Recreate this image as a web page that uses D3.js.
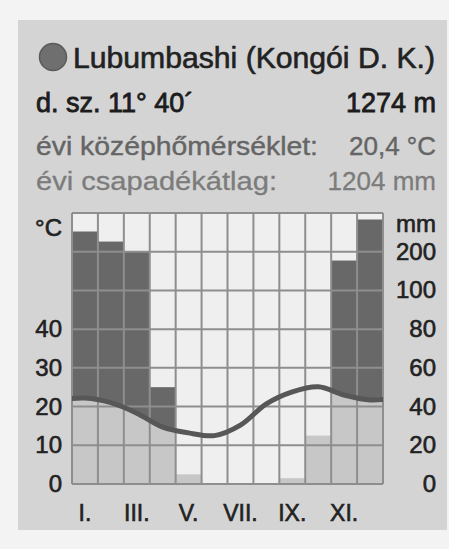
<!DOCTYPE html>
<html><head><meta charset="utf-8">
<script src="https://cdn.jsdelivr.net/npm/d3@7"></script>
<style>html,body{margin:0;padding:0;background:#f3f3f3;}svg{display:block;}</style>
</head><body>
<script>
// ---- data ----
const months = ["I.","II.","III.","IV.","V.","VI.","VII.","VIII.","IX.","X.","XI.","XII."];
const monthLabels = ["I.","III.","V.","VII.","IX.","XI."];
const precipitation = [252, 226, 200, 50, 5, 0, 0, 0, 3, 25, 177, 283];   // mm
const temperature = [22.2, 21.0, 18.3, 14.7, 13.2, 12.5, 15.2, 20.7, 23.8, 25.1, 23.0, 21.7]; // °C
const tempTicks = [0, 10, 20, 30, 40];
const precipTicks = [0, 20, 40, 60, 80, 100, 200];
const gridPrecip = [0, 20, 40, 60, 80, 100, 200, 300];
const title = "Lubumbashi (Kongói D. K.)";
const latitude = "d. sz. 11° 40´";
const altitude = "1274 m";
const tempLabel = "évi középhőmérséklet:";
const tempValue = "20,4 °C";
const precLabel = "évi csapadékátlag:";
const precValue = "1204 mm";

const W = 449, H = 549;
const L = 72, R = 383, T = 213, B = 484;

const svg = d3.select("body").append("svg").attr("width", W).attr("height", H);
svg.append("rect").attr("x",0).attr("y",0).attr("width",W).attr("height",H).attr("fill","#f3f3f3");
svg.append("rect").attr("x",18).attr("y",20).attr("width",429).attr("height",510).attr("fill","#d4d4d4");

const x = d3.scaleBand().domain(months).range([L, R]).padding(0);
const xi = d3.scaleLinear().domain([0, 12]).range([L, R]);
const yP = d3.scaleLinear().domain([0, 100, 300]).range([B, B - 5*(B-T)/7, T]);
const yT = d3.scaleLinear().domain([0, 50]).range([B, B - 5*(B-T)/7]);

const defs = svg.append("defs");
defs.append("clipPath").attr("id","plotclip").append("rect")
  .attr("x",L).attr("y",T).attr("width",R-L).attr("height",B-T);

// temperature points with cyclic wrap
const tPts = [[-0.5, temperature[11]]]
  .concat(temperature.map((t,i)=>[i+0.5, t]))
  .concat([[12.5, temperature[0]]]);
const curve = d3.curveCatmullRom.alpha(0.5);
const line = d3.line().x(d=>xi(d[0])).y(d=>yT(d[1])).curve(curve);
const areaAbove = d3.area().x(d=>xi(d[0])).y0(T-50).y1(d=>yT(d[1])).curve(curve);
defs.append("clipPath").attr("id","aboveclip").append("path").attr("d", areaAbove(tPts));

const plot = svg.append("g");
plot.append("rect").attr("x",L).attr("y",T).attr("width",R-L).attr("height",B-T).attr("fill","#efefef");

// light bars (full)
plot.append("g").selectAll("rect").data(precipitation).join("rect")
  .attr("x",(d,i)=>x(months[i])).attr("width",x.bandwidth())
  .attr("y",d=>yP(d)).attr("height",d=>B-yP(d)).attr("fill","#c7c7c7");
// dark bars (part above temperature curve)
plot.append("g").attr("clip-path","url(#aboveclip)").selectAll("rect").data(precipitation).join("rect")
  .attr("x",(d,i)=>x(months[i])).attr("width",x.bandwidth())
  .attr("y",d=>yP(d)).attr("height",d=>B-yP(d)).attr("fill","#686868");

// grid
const grid = plot.append("g").attr("stroke","#8e8e8e").attr("stroke-width",2);
grid.selectAll("line.h").data(gridPrecip).join("line").attr("class","h")
  .attr("x1",L).attr("x2",R).attr("y1",d=>yP(d)).attr("y2",d=>yP(d));
grid.selectAll("line.v").data(d3.range(13)).join("line").attr("class","v")
  .attr("x1",d=>xi(d)).attr("x2",d=>xi(d)).attr("y1",T).attr("y2",B);

// temperature line
plot.append("path").attr("d", line(tPts)).attr("clip-path","url(#plotclip)")
  .attr("fill","none").attr("stroke","#575757").attr("stroke-width",5).attr("stroke-linecap","round");

const font = "'Liberation Sans', Arial, sans-serif";
// axes labels
const ax = svg.append("g").attr("font-family",font).attr("font-size",24).attr("fill","#222")
  .attr("stroke","#222").attr("stroke-width",0.6);
ax.append("text").attr("x",62).attr("y",236).attr("text-anchor","end").text("°C");
ax.selectAll("text.tl").data(tempTicks).join("text").attr("class","tl")
  .attr("x",62).attr("y",d=>yT(d)+8).attr("text-anchor","end").text(d=>d);
ax.append("text").attr("x",436).attr("y",232).attr("text-anchor","end").text("mm");
ax.selectAll("text.pl").data(precipTicks).join("text").attr("class","pl")
  .attr("x",436).attr("y",d=>yP(d)+8).attr("text-anchor","end").text(d=>d);
ax.selectAll("text.ml").data(monthLabels).join("text").attr("class","ml")
  .attr("x",d=>x(d)+x.bandwidth()/2).attr("y",521).attr("text-anchor","middle")
  .attr("font-size",23).text(d=>d);

// header
svg.append("circle").attr("cx",53).attr("cy",57).attr("r",13.5).attr("fill","#6f6f6f").attr("stroke","#5a5a5a").attr("stroke-width",1.5);
const hd = svg.append("g").attr("font-family",font);
hd.append("text").attr("x",73).attr("y",68).attr("font-size",29).attr("fill","#222")
  .attr("stroke","#222").attr("stroke-width",0.6)
  .attr("textLength",362).attr("lengthAdjust","spacingAndGlyphs").text(title);
hd.append("text").attr("x",36).attr("y",112).attr("font-size",27).attr("fill","#1c1c1c")
  .attr("stroke","#1c1c1c").attr("stroke-width",0.8).text(latitude);
hd.append("text").attr("x",436).attr("y",112).attr("font-size",27).attr("fill","#1c1c1c")
  .attr("stroke","#1c1c1c").attr("stroke-width",0.8).attr("text-anchor","end").text(altitude);
hd.append("text").attr("x",36).attr("y",155).attr("font-size",26).attr("fill","#656565")
  .attr("stroke","#656565").attr("stroke-width",0.4)
  .attr("textLength",282).attr("lengthAdjust","spacingAndGlyphs").text(tempLabel);
hd.append("text").attr("x",436).attr("y",155).attr("font-size",26).attr("fill","#656565")
  .attr("stroke","#656565").attr("stroke-width",0.4).attr("text-anchor","end").text(tempValue);
hd.append("text").attr("x",36).attr("y",190).attr("font-size",26).attr("fill","#7c7c7c")
  .attr("stroke","#7c7c7c").attr("stroke-width",0.3)
  .attr("textLength",241).attr("lengthAdjust","spacingAndGlyphs").text(precLabel);
hd.append("text").attr("x",436).attr("y",190).attr("font-size",26).attr("fill","#7c7c7c")
  .attr("stroke","#7c7c7c").attr("stroke-width",0.3).attr("text-anchor","end").text(precValue);
</script>
</body></html>
